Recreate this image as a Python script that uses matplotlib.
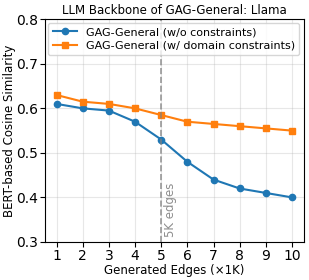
import matplotlib
matplotlib.use("Agg")
import matplotlib.pyplot as plt

edges = [1, 2, 3, 4, 5, 6, 7, 8, 9, 10]
wo_constraints = [0.61, 0.60, 0.595, 0.57, 0.53, 0.48, 0.44, 0.42, 0.41, 0.40]
w_domain = [0.63, 0.615, 0.61, 0.60, 0.585, 0.57, 0.565, 0.56, 0.555, 0.55]

fig = plt.figure(figsize=(3.09, 2.8), dpi=100)
ax = fig.add_axes([0.145, 0.136, 0.838, 0.795])

ax.plot(edges, wo_constraints, marker='o', markersize=4.5, color='#1f77b4',
        linewidth=1.5, label='GAG-General (w/o constraints)')
ax.plot(edges, w_domain, marker='s', markersize=4.5, color='#ff7f0e',
        linewidth=1.5, label='GAG-General (w/ domain constraints)')

ax.axvline(5, color='gray', linestyle='--', linewidth=1.2, alpha=0.8)
ax.text(5.12, 0.31, '5K edges', rotation=90, color='gray', fontsize=8.5,
        ha='left', va='bottom', alpha=0.9)

ax.set_xlim(0.55, 10.45)
ax.set_ylim(0.3, 0.8)
ax.set_xticks(edges)
ax.set_yticks([0.3, 0.4, 0.5, 0.6, 0.7, 0.8])
ax.tick_params(labelsize=10, pad=1.5)
ax.grid(True, alpha=0.3)

ax.set_xlabel('Generated Edges (×1K)', fontsize=8.5, labelpad=1)
ax.set_ylabel('BERT-based Cosine Similarity', fontsize=8.5)
ax.yaxis.set_label_coords(-0.11, 0.5)
ax.set_title('LLM Backbone of GAG-General: Llama', fontsize=8.5, pad=4)
ax.legend(loc='upper left', fontsize=8, handlelength=2.2,
          borderpad=0.4, labelspacing=0.3, borderaxespad=0.3)

fig.savefig('out.png', dpi=100)
